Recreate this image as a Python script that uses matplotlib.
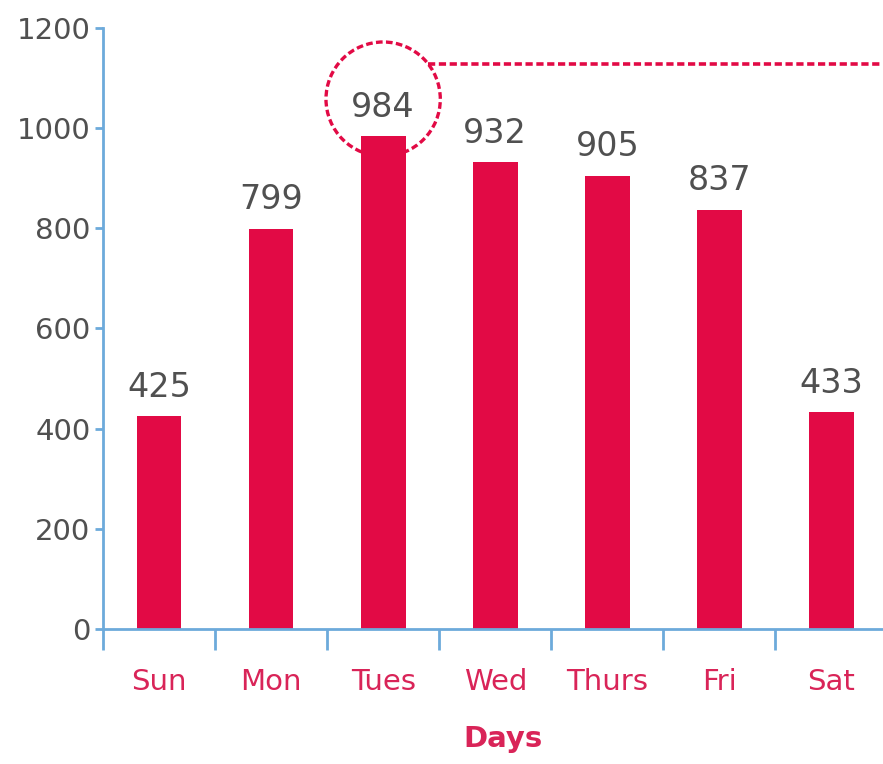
import matplotlib
matplotlib.use("Agg")
from matplotlib import pyplot as plt
from matplotlib.patches import Ellipse
import numpy as np

# Visitors per day of week
days = ["Sun", "Mon", "Tues", "Wed", "Thurs", "Fri", "Sat"]
counts = [425, 799, 984, 932, 905, 837, 433]
y_ticks = [0, 200, 400, 600, 800, 1000, 1200]
highlight = "Tues"

bar_color = "#E20A45"
text_red = "#D92458"
axis_blue = "#6DAADB"
num_gray = "#505050"

fig = plt.figure(figsize=(8.83, 7.64), dpi=100)
axis = fig.add_axes([0.1166, 0.1767, 0.8834, 0.7867])

x = np.arange(len(days))
axis.bar(x, counts, width=0.4, color=bar_color, linewidth=0, zorder=2)

# value labels above bars
for xi, val in zip(x, counts):
    axis.text(xi, val + 25, str(val), ha="center", va="bottom",
              fontsize=24, color=num_gray, family="DejaVu Sans")

axis.set_xlim(-0.5, 6.46)
axis.set_ylim(0, 1200)

# spines
for side in ("top", "right"):
    axis.spines[side].set_visible(False)
for side in ("left", "bottom"):
    axis.spines[side].set_color(axis_blue)
    axis.spines[side].set_linewidth(2)

axis.set_yticks(y_ticks)
axis.set_yticklabels([str(v) for v in y_ticks], fontsize=21, color=num_gray,
                     family="DejaVu Sans")
axis.tick_params(axis="y", colors=axis_blue, length=6, width=2, pad=3,
                 labelcolor=num_gray)

# category labels at centres, tick marks at boundaries
axis.set_xticks(x)
axis.set_xticklabels(days, fontsize=21, color=text_red, family="DejaVu Sans")
axis.tick_params(axis="x", which="major", length=0, pad=28, labelcolor=text_red)
axis.set_xticks(np.arange(-0.5, 6.5, 1.0), minor=True)
axis.tick_params(axis="x", which="minor", length=15, width=2, colors=axis_blue,
                 direction="out")
axis.set_xlabel("Days", fontsize=21, color=text_red, fontweight="bold",
                family="DejaVu Sans")
axis.xaxis.set_label_coords(0.513, -0.16)

# dashed circle around the peak label with a leader line to the right edge
hi = days.index(highlight)
circ = Ellipse((hi, 1058), width=1.02, height=228, fill=False,
               edgecolor=bar_color, linestyle=(0, (2, 1)), linewidth=2.4,
               zorder=3, clip_on=False)
axis.add_patch(circ)
axis.plot([hi + 0.40, 6.46], [1128, 1128], color=bar_color,
          linestyle=(0, (2, 1)), linewidth=2.6, clip_on=False, zorder=3)

fig.savefig("out.png", dpi=100)
